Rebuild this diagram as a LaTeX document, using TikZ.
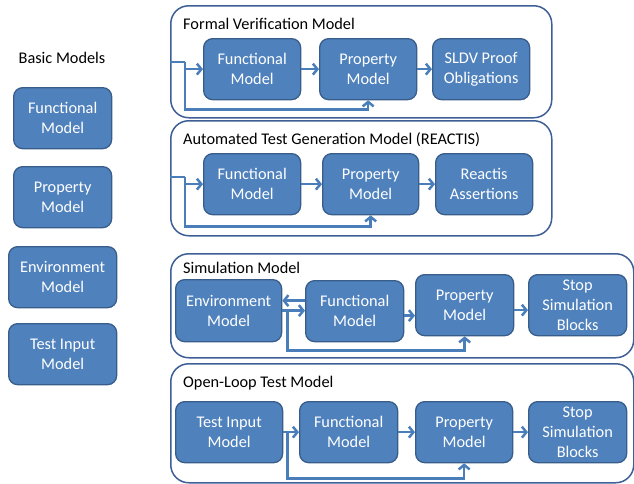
\documentclass[tikz,border=0pt]{standalone}
\usepackage{fontspec}
\setmainfont{Carlito}
\usetikzlibrary{arrows.meta,calc}
\definecolor{boxfill}{HTML}{4F81BD}
\definecolor{boxline}{HTML}{385D8A}
\definecolor{outline}{HTML}{3D5F96}
\definecolor{arrcol}{HTML}{4A7EBB}
\tikzset{
  mbox/.style={draw=boxline, fill=boxfill, line width=1.3pt, rounded corners=9pt,
    text=white, align=center, anchor=north west, inner sep=0pt,
    font=\fontsize{16.3}{19.7}\selectfont},
  obox/.style={draw=outline, fill=white, line width=1.5pt, rounded corners=18pt,
    anchor=north west, inner sep=0pt},
  ttl/.style={anchor=west, font=\fontsize{16.3}{19.7}\selectfont, inner sep=0pt},
  arr/.style={draw=arrcol, line width=2.5pt, -{Straight Barb[length=4.5pt,width=11pt]}},
  ln/.style={draw=arrcol, line width=2.5pt}
}
\newcommand{\bx}[7]{\node[#1, minimum width=#5pt-#3pt, minimum height=#6pt-#4pt] (#2) at (#3,#4) {#7};}
\begin{document}
\begin{tikzpicture}[x=1pt,y=-1pt]
\useasboundingbox (0,0) rectangle (634,483);
% basic models
\node[font=\fontsize{16.3}{19.7}\selectfont, inner sep=0pt] (bm) at (62,58) {Basic Models};
\bx{mbox}{bf}{13}{87}{111}{148}{Functional\\Model}
\bx{mbox}{bp}{13}{166}{111}{227}{Property\\Model}
\bx{mbox}{be}{8}{246}{116}{307}{Environment\\Model}
\bx{mbox}{bt}{8}{323}{116}{384}{Test Input\\Model}
% outer boxes
\bx{obox}{o1}{170}{5}{551}{117}{}
\bx{obox}{o2}{170}{120}{551}{235}{}
\bx{obox}{o3}{170}{253}{633}{357}{}
\bx{obox}{o4}{170}{363}{633}{482}{}
\node[ttl] (t1) at (183,24) {Formal Verification Model};
\node[ttl] (t2) at (183,140) {Automated Test Generation Model (REACTIS)};
\node[ttl] (t3) at (183,268) {Simulation Model};
\node[ttl] (t4) at (183,383) {Open-Loop Test Model};
% box 1
\bx{mbox}{f1}{203}{38}{300}{99}{Functional\\Model}
\bx{mbox}{p1}{319}{38}{416}{99}{Property\\Model}
\bx{mbox}{s1}{432}{38}{529}{99}{SLDV Proof\\Obligations}
\coordinate (j1) at (185,62);
\draw[ln] (o1.west |- j1) -- (j1);
\draw[arr] (j1) |- (f1.west);
\draw[arr] (j1) |- ($(p1.south)+(0,9)$) -- (p1.south);
\draw[arr] (f1.east) -- (p1.west);
\draw[arr] (p1.east) -- (s1.west);
% box 2
\bx{mbox}{f2}{203}{153}{300}{214}{Functional\\Model}
\bx{mbox}{p2}{322}{153}{418}{214}{Property\\Model}
\bx{mbox}{r2}{435}{153}{532}{214}{Reactis\\Assertions}
\coordinate (j2) at (185,177);
\draw[ln] (o2.west |- j2) -- (j2);
\draw[arr] (j2) |- (f2.west);
\draw[arr] (j2) |- ($(p2.south)+(0,11)$) -- (p2.south);
\draw[arr] (f2.east) -- (p2.west);
\draw[arr] (p2.east) -- (r2.west);
% box 3
\bx{mbox}{e3}{175}{279}{281}{341}{Environment\\Model}
\bx{mbox}{f3}{305}{280}{403}{341}{Functional\\Model}
\bx{mbox}{p3}{415}{274}{513}{335}{Property\\Model}
\bx{mbox}{s3}{528}{274}{626}{335}{Stop\\Simulation\\Blocks}
\coordinate (j3) at ([xshift=5pt]e3.east);
\draw[arr] ([yshift=10.5pt]f3.west) -- ([yshift=10.5pt]f3.west -| e3.east);
\draw[arr] (e3.east) -- (e3.east -| f3.west);
\draw[arr] (j3) |- ($(p3.south)+(0,14)$) -- (p3.south);
\draw[arr] ([yshift=-4.5pt]f3.east) -- ([yshift=-4.5pt]f3.east -| p3.west);
\draw[arr] ([yshift=-5pt]p3.east) -- ([yshift=-5pt]p3.east -| s3.west);
% box 4
\bx{mbox}{i4}{175}{401}{282}{462}{Test Input\\Model}
\bx{mbox}{f4}{299}{401}{397}{462}{Functional\\Model}
\bx{mbox}{p4}{415}{401}{512}{462}{Property\\Model}
\bx{mbox}{s4}{528}{401}{626}{462}{Stop\\Simulation\\Blocks}
\coordinate (j4) at ([xshift=4pt]i4.east);
\draw[arr] (i4.east) -- (f4.west);
\draw[arr] (j4) |- ($(p4.south)+(0,15)$) -- (p4.south);
\draw[arr] (f4.east) -- (p4.west);
\draw[arr] (p4.east) -- (s4.west);
\end{tikzpicture}
\end{document}
